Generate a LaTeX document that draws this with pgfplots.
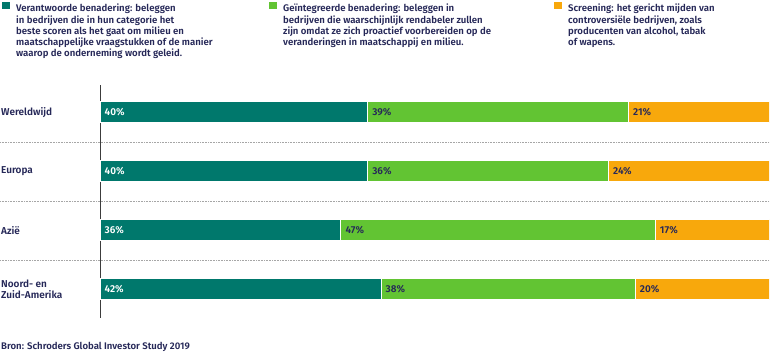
\documentclass[border=0pt]{standalone}
\usepackage{fontspec}
\setmainfont{Fira Sans}[UprightFont={* SemiBold}, BoldFont={* Bold}]
\usepackage{pgfplots}
\usepackage{pgfplotstable}
\pgfplotsset{compat=1.18}
\definecolor{cteal}{HTML}{00786C}
\definecolor{cgreen}{HTML}{62C433}
\definecolor{corange}{HTML}{F8A80C}
\definecolor{navy}{HTML}{262858}
\definecolor{axisgray}{HTML}{3C3C3C}
\pgfplotstableread{
y a b c sa sb sc
0 40 39 21 0 40 79
1 40 36 24 0 40 76
2 36 47 17 0 36 83
3 42 38 20 0 42 80
}\datatable
\pgfplotsset{base/.style={scale only axis, width=669pt, height=233pt,
  xmin=0, xmax=100, ymin=-0.46, ymax=3.49, y dir=reverse,
  at={(100pt,36pt)}, anchor=south west}}
\newcommand{\txt}{\fontsize{9.6}{11.2}\selectfont}
\newcommand{\lbl}{\fontsize{10}{11.2}\selectfont}
\begin{document}
\begin{tikzpicture}[x=1pt,y=1pt]
\path[use as bounding box] (0,0) rectangle (770,354);
% separators
\foreach \yy in {212,153,94} {
  \draw[densely dotted, black!35, line width=0.6pt] (0,\yy) -- (770,\yy);
}
\begin{axis}[base,
  xbar stacked, bar width=21pt,
  axis x line=none, axis y line*=left,
  y axis line style={axisgray, line width=0.8pt},
  xtick=\empty,
  ytick={0,1,2,3},
  yticklabels={Wereldwijd, Europa, Azië, {Noord- en\\Zuid-Amerika}},
  ytick style={draw=none},
  yticklabel style={anchor=west, xshift=-99pt, inner sep=0pt, align=left, font=\lbl, text=navy},
]
\addplot[fill=cteal, draw=white, line width=0.8pt] table[x=a, y=y] {\datatable};
\addplot[fill=cgreen, draw=white, line width=0.8pt] table[x=b, y=y] {\datatable};
\addplot[fill=corange, draw=white, line width=0.8pt] table[x=c, y=y] {\datatable};
\end{axis}
\begin{axis}[base, hide axis,
  /pgf/number format/assume math mode=true,
  nodes near coords={\pgfmathprintnumber{\pgfplotspointmeta}\%},
  point meta=explicit,
  every node near coord/.append style={anchor=west, xshift=4.5pt, yshift=0pt, inner sep=0pt, font=\lbl},
]
\addplot[only marks, mark=*, mark size=0pt, mark options={draw=none, fill=none},
  every node near coord/.append style={text=white}] table[x=sa, y=y, meta=a] {\datatable};
\addplot[only marks, mark=*, mark size=0pt, mark options={draw=none, fill=none},
  every node near coord/.append style={text=navy}] table[x=sb, y=y, meta=b] {\datatable};
\addplot[only marks, mark=*, mark size=0pt, mark options={draw=none, fill=none},
  every node near coord/.append style={text=navy}] table[x=sc, y=y, meta=c] {\datatable};
\end{axis}
% legend
\fill[cteal] (2,352) rectangle (9.5,344.5);
\node[anchor=north west, inner sep=0pt, align=left, font=\txt, text=navy] at (16,350)
 {Verantwoorde benadering: beleggen\\in bedrijven die in hun categorie het\\beste scoren als het gaat om milieu en\\maatschappelijke vraagstukken of de manier\\waarop de onderneming wordt geleid.};
\fill[cgreen] (269,352) rectangle (276.5,344.5);
\node[anchor=north west, inner sep=0pt, align=left, font=\txt, text=navy] at (283,350)
 {Geïntegreerde benadering: beleggen in\\bedrijven die waarschijnlijk rendabeler zullen\\zijn omdat ze zich proactief voorbereiden op de\\veranderingen in maatschappij en milieu.};
\fill[corange] (554,352) rectangle (561.5,344.5);
\node[anchor=north west, inner sep=0pt, align=left, font=\txt, text=navy] at (568,350)
 {Screening: het gericht mijden van\\controversiële bedrijven, zoals\\producenten van alcohol, tabak\\of wapens.};
\node[anchor=base west, inner sep=0pt, font=\txt, text=navy] at (1,5) {Bron: Schroders Global Investor Study 2019};
\end{tikzpicture}
\end{document}
